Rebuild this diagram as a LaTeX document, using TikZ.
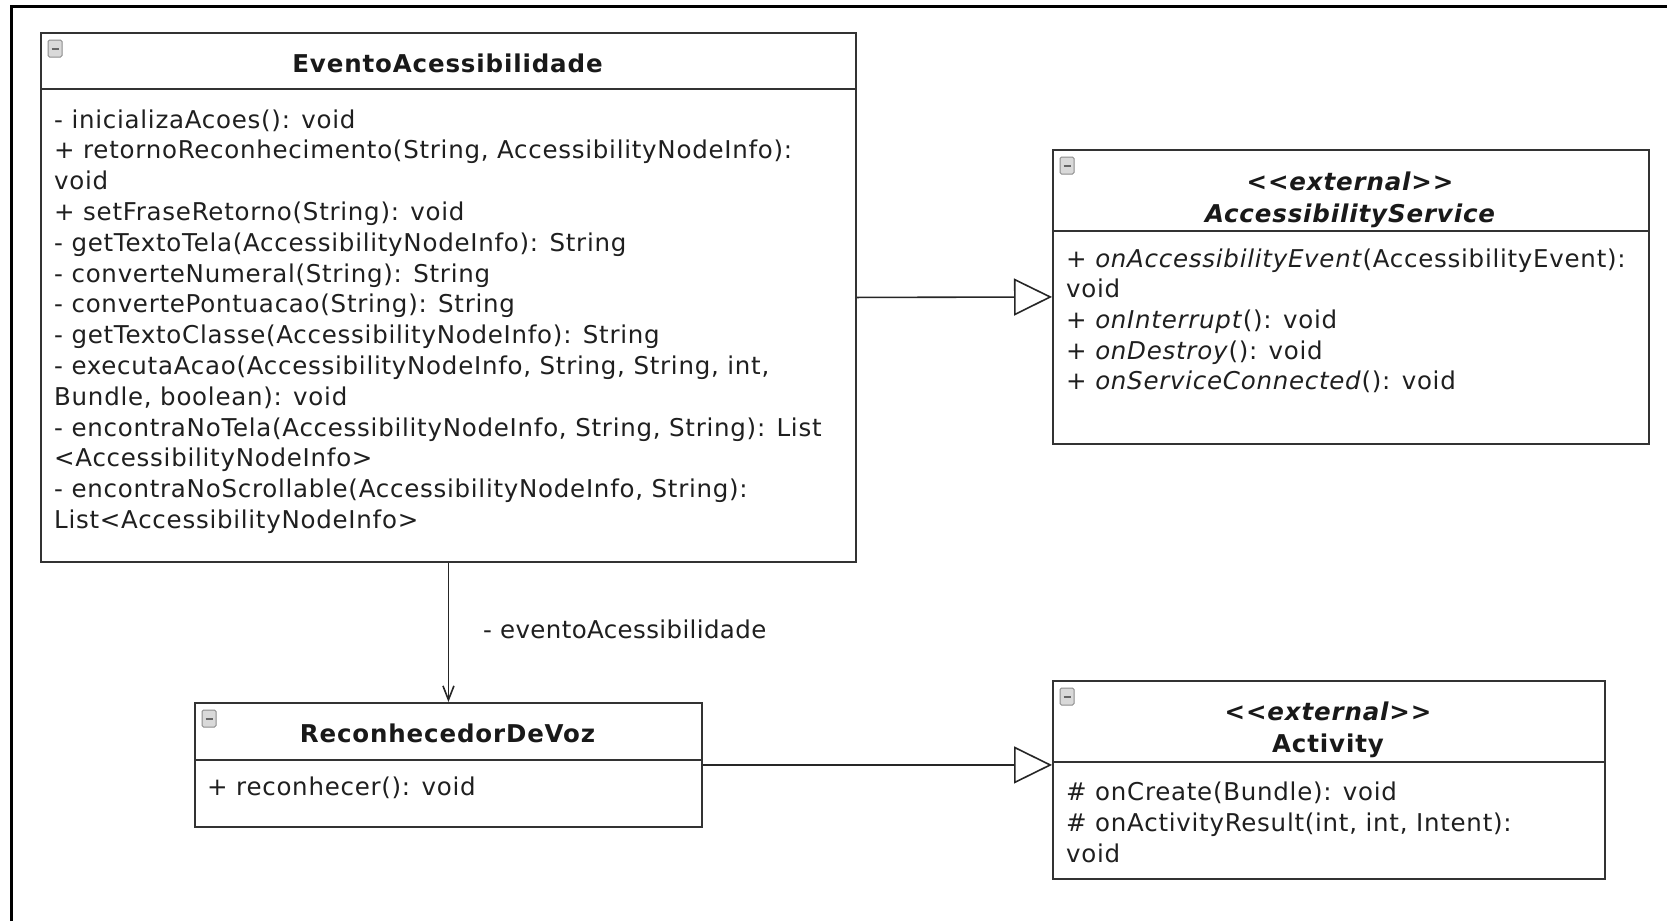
\documentclass[tikz,border=0pt]{standalone}
\usepackage{fontspec}
\setmainfont{DejaVu Sans}
\usetikzlibrary{arrows.meta}

\begin{document}
\begin{tikzpicture}[x=1pt,y=-1pt,
  classbox/.style={draw=black!80, line width=1.9pt, fill=white, rectangle, inner sep=0pt, anchor=north west},
  divider/.style={draw=black!80, line width=1.9pt},
  member/.style={anchor=base west, inner sep=0pt, font=\fontsize{24.5}{29}\selectfont\addfontfeature{LetterSpace=3}, text=black!88},
  classtitle/.style={anchor=base, inner sep=0pt, font=\fontsize{24.5}{29}\selectfont\bfseries\addfontfeature{LetterSpace=3.5}, text=black!90},
  linkline/.style={draw=black!85, line width=1.6pt},
  gen/.style={linkline, -{Triangle[open, length=38pt, width=37pt, line width=1.6pt]}},
  assoc/.style={linkline, -{Straight Barb[length=14pt, width=11pt, line width=1.6pt]}},
  roletext/.style={anchor=base west, inner sep=0pt, font=\fontsize{24.5}{29}\selectfont\addfontfeature{LetterSpace=1.5}, text=black!88},
  toggle/.style={draw=black!45, fill=black!15, line width=1pt, rounded corners=1.5pt}
]
\useasboundingbox (0,0) rectangle (1667,921);

% open frame (top and left edges)
\draw[line width=3pt, black] (11,921) -- (11,6.5) -- (1667,6.5);

% collapse toggle icon
\newcommand{\togglebox}[2]{%
  \draw[toggle] (#1,#2) rectangle ++(14,17);
  \draw[black!60, line width=2pt] (#1+3.5,#2+8.5) -- (#1+10.5,#2+8.5);}

% ---------- EventoAcessibilidade ----------
\node[classbox, minimum width=815pt, minimum height=529pt] (ev) at (40,32) {};
\draw[divider] (40,89) -- (855,89);
\togglebox{48}{40}
\node[classtitle] (evt) at (447.5,72) {EventoAcessibilidade};
\foreach \t [count=\i] in {
  {- inicializaAcoes(): void},
  {+ retornoReconhecimento(String, AccessibilityNodeInfo):},
  {void},
  {+ setFraseRetorno(String): void},
  {- getTextoTela(AccessibilityNodeInfo): String},
  {- converteNumeral(String): String},
  {- convertePontuacao(String): String},
  {- getTextoClasse(AccessibilityNodeInfo): String},
  {- executaAcao(AccessibilityNodeInfo, String, String, int,},
  {Bundle, boolean): void},
  {- encontraNoTela(AccessibilityNodeInfo, String, String): List},
  {<AccessibilityNodeInfo>},
  {- encontraNoScrollable(AccessibilityNodeInfo, String):},
  {List<AccessibilityNodeInfo>}}
  \node[member] (ev-\i) at (54,128+30.8*\i-30.8) {\t};

% ---------- AccessibilityService ----------
\node[classbox, minimum width=596pt, minimum height=294pt] (acc) at (1052,149) {};
\draw[divider] (1052,231) -- (1648,231);
\togglebox{1060}{157}
\node[classtitle] (acc-s) at (1350,190) {\itshape <{}<external>{}>};
\node[classtitle] (acc-t) at (1350,222) {\itshape AccessibilityService};
\foreach \t [count=\i] in {
  {+ \textit{onAccessibilityEvent}(AccessibilityEvent):},
  {void},
  {+ \textit{onInterrupt}(): void},
  {+ \textit{onDestroy}(): void},
  {+ \textit{onServiceConnected}(): void}}
  \node[member] (acc-\i) at (1066,267+30.7*\i-30.7) {\t};

% ---------- ReconhecedorDeVoz ----------
\node[classbox, minimum width=507pt, minimum height=124pt] (rv) at (194,702) {};
\draw[divider] (194,760) -- (701,760);
\togglebox{202}{710}
\node[classtitle] (rvt) at (447.5,742) {ReconhecedorDeVoz};
\node[member] (rv-1) at (207,795) {+ reconhecer(): void};

% ---------- Activity ----------
\node[classbox, minimum width=552pt, minimum height=198pt] (act) at (1052,680) {};
\draw[divider] (1052,762) -- (1604,762);
\togglebox{1060}{688}
\node[classtitle] (act-s) at (1328,720) {\itshape <{}<external>{}>};
\node[classtitle] (act-t) at (1328,752) {Activity};
\foreach \t [count=\i] in {
  {\# onCreate(Bundle): void},
  {\# onActivityResult(int, int, Intent):},
  {void}}
  \node[member] (act-\i) at (1066,800+31*\i-31) {\t};

% ---------- relations ----------
\draw[gen] (ev.east) -- (acc.west);
\draw[gen] (rv.east) -- (rv.east -| act.west);
\draw[assoc] (ev.south) -- (rv.north);
\node[roletext] (role) at (483,638) {- eventoAcessibilidade};

\end{tikzpicture}
\end{document}
